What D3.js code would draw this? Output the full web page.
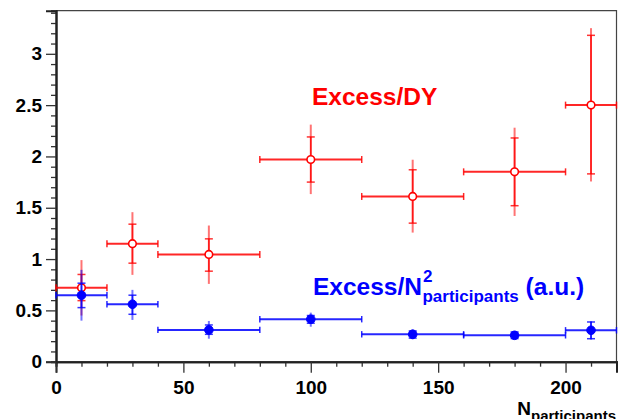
<!DOCTYPE html>
<html>
<head>
<meta charset="utf-8">
<script src="https://cdn.jsdelivr.net/npm/d3@7"></script>
<style>
  html, body { margin: 0; padding: 0; background: #fff; }
  svg { display: block; }
  text { font-family: "Liberation Sans", Arial, Helvetica, sans-serif; font-weight: bold; }
</style>
</head>
<body>
<svg id="chart" width="623" height="419"></svg>
<script>
// ---- data ----
const xCenters = [10, 30, 60, 100, 140, 180, 210];
const xLow     = [0, 20, 40, 80, 120, 160, 200];
const xHigh    = [20, 40, 80, 120, 160, 200, 220];

// Excess/DY (red, open circles)
const dyVal    = [0.72, 1.15, 1.045, 1.97, 1.61, 1.85, 2.50];
const dyStatLo = [0.595, 0.96, 0.882, 1.75, 1.35, 1.52, 1.83];
const dyStatHi = [0.85, 1.34, 1.197, 2.19, 1.87, 2.18, 3.18];
const dySysLo  = [0.45, 0.846, 0.758, 1.633, 1.258, 1.42, 1.756];
const dySysHi  = [0.99, 1.457, 1.327, 2.31, 1.968, 2.28, 3.25];

// Excess/N^2 participants (blue, filled circles)
const nVal    = [0.648, 0.56, 0.31, 0.414, 0.267, 0.257, 0.306];
const nStatLo = [0.527, 0.462, 0.267, 0.375, 0.23, 0.225, 0.224];
const nStatHi = [0.765, 0.648, 0.358, 0.45, 0.30, 0.29, 0.387];
const nSysLo  = [0.40, 0.407, 0.224, 0.341, 0.218, 0.215, 0.215];
const nSysHi  = [0.895, 0.70, 0.397, 0.478, 0.316, 0.30, 0.395];

const xMajorTicks = [0, 50, 100, 150, 200];
const yMajorTicks = [0, 0.5, 1, 1.5, 2, 2.5, 3];
const xDomain = [0, 220];
const yDomain = [0, 3.42];

// ---- layout ----
const svg = d3.select("#chart");
const L = 56, R = 616.5, T = 10.7, B = 361.7;
const x = d3.scaleLinear().domain(xDomain).range([L, R]);
const y = d3.scaleLinear().domain(yDomain).range([B, T]);

// frame (top & right)
svg.append("path")
  .attr("d", `M${L},${T}H${R}V${B}`)
  .attr("fill", "none").attr("stroke", "#444").attr("stroke-width", 1.2);

// minor ticks
const xMinor = d3.range(0, 221, 10).filter(v => !xMajorTicks.includes(v));
const yMinor = d3.range(0, 34.2, 1).map(v => +(v / 10).toFixed(1)).filter(v => !yMajorTicks.includes(v));

const xAxisMinor = svg.append("g").attr("transform", `translate(0,${B})`)
  .call(d3.axisBottom(x).tickValues(xMinor).tickSize(5).tickFormat(""));
const yAxisMinor = svg.append("g").attr("transform", `translate(${L},0)`)
  .call(d3.axisLeft(y).tickValues(yMinor).tickSize(5).tickFormat(""));

const xAxis = svg.append("g").attr("transform", `translate(0,${B})`)
  .call(d3.axisBottom(x).tickValues(xMajorTicks).tickSize(11).tickPadding(6).tickFormat(d3.format("d")));
const yAxis = svg.append("g").attr("transform", `translate(${L},0)`)
  .call(d3.axisLeft(y).tickValues(yMajorTicks).tickSize(10).tickPadding(4).tickFormat(d => d === 0 ? "0" : d3.format("")(d)));

[xAxisMinor, yAxisMinor, xAxis, yAxis].forEach(g => {
  g.selectAll(".domain").attr("stroke", "#222").attr("stroke-width", 2);
  g.selectAll(".tick line").attr("stroke", "#333").attr("stroke-width", 1.3);
});
[xAxis, yAxis].forEach(g => {
  g.selectAll("text").attr("font-size", 19).attr("fill", "#000")
    .attr("font-family", '"Liberation Sans", Arial, sans-serif').attr("font-weight", "bold");
});
xAxis.selectAll("text").attr("dy", "0.8em");

// ---- series drawing ----
function drawSeries(vals, statLo, statHi, sysLo, sysHi, color, filled, capH) {
  const g = svg.append("g");
  xCenters.forEach((xc, i) => {
    const cx = x(xc), cy = y(vals[i]);
    // outer (systematic) vertical line, lighter
    g.append("line").attr("x1", cx).attr("x2", cx)
      .attr("y1", y(sysLo[i])).attr("y2", y(sysHi[i]))
      .attr("stroke", color).attr("stroke-width", 2).attr("stroke-opacity", 0.55);
    // inner (stat) vertical line
    g.append("line").attr("x1", cx).attr("x2", cx)
      .attr("y1", y(statLo[i])).attr("y2", y(statHi[i]))
      .attr("stroke", color).attr("stroke-width", 1.6).attr("stroke-opacity", 0.8);
    // stat caps
    [statLo[i], statHi[i]].forEach(v => {
      g.append("line").attr("x1", cx - 4).attr("x2", cx + 4)
        .attr("y1", y(v)).attr("y2", y(v))
        .attr("stroke", color).attr("stroke-width", 1.5).attr("stroke-opacity", 0.8);
    });
    // horizontal bin bar
    g.append("line").attr("x1", x(xLow[i])).attr("x2", x(xHigh[i]))
      .attr("y1", cy).attr("y2", cy)
      .attr("stroke", color).attr("stroke-width", 2).attr("stroke-opacity", 0.85);
    [xLow[i], xHigh[i]].forEach(v => {
      g.append("line").attr("x1", x(v)).attr("x2", x(v))
        .attr("y1", cy - capH).attr("y2", cy + capH)
        .attr("stroke", color).attr("stroke-width", 1.5).attr("stroke-opacity", 0.85);
    });
    // marker
    g.append("circle").attr("cx", cx).attr("cy", cy)
      .attr("r", filled ? 4.3 : 3.8)
      .attr("fill", filled ? color : "#fff")
      .attr("stroke", color).attr("stroke-width", filled ? 1 : 1.6);
  });
}

drawSeries(dyVal, dyStatLo, dyStatHi, dySysLo, dySysHi, "#ff0000", false, 3.5);
drawSeries(nVal, nStatLo, nStatHi, nSysLo, nSysHi, "#0000ff", true, 3.2);

// ---- labels ----
svg.append("text").attr("x", 312).attr("y", 104.5)
  .attr("font-size", 24.5).attr("fill", "#ff0000").text("Excess/DY");

const bl = svg.append("text").attr("x", 313).attr("y", 295)
  .attr("font-size", 24.5).attr("fill", "#0000ff");
bl.append("tspan").text("Excess/N");
bl.append("tspan").attr("font-size", 17).attr("dy", -13.5).attr("dx", 1).text("2");
bl.append("tspan").attr("font-size", 17).attr("dy", 20).attr("dx", -10).text("participants");
bl.append("tspan").attr("dy", -6.5).text(" (a.u.)");

const xt = svg.append("text").attr("x", 616).attr("y", 415)
  .attr("text-anchor", "end").attr("font-size", 19).attr("fill", "#000");
xt.append("tspan").text("N");
xt.append("tspan").attr("font-size", 15).attr("dy", 6).text("participants");
</script>
</body>
</html>
